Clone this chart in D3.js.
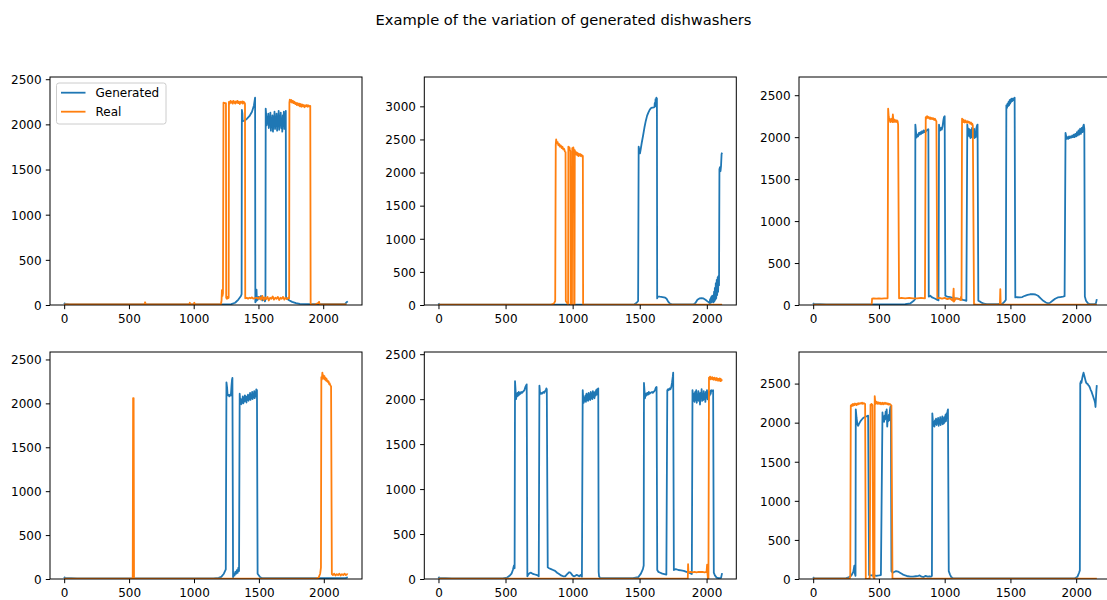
<!DOCTYPE html>
<html><head><meta charset="utf-8">
<script src="https://cdn.jsdelivr.net/npm/d3@7"></script>
<style>body{margin:0;background:#fff}svg{display:block;font-family:"DejaVu Sans",sans-serif}</style>
</head><body><svg id="chart" width="1107" height="600"></svg>
<script>
const chartTitle = "Example of the variation of generated dishwashers";
const seriesNames = ["Generated", "Real"];
const xTickValues = [0, 500, 1000, 1500, 2000];
const yTickStep = 500;

const gen1 = [[0,25],[5,12],[40,8],[600,8],[1200,8],[1290,10],[1320,25],[1345,60],[1365,100],[1370,120],[1372,2160],[1376,2120],[1378,2035],[1390,2040],[1410,2060],[1430,2090],[1450,2140],[1465,2210],[1474,2295],[1476,30],[1480,40],[1485,170],[1488,50],[1495,60],[1500,90],[1510,70],[1520,100],[1530,50],[1540,80],[1550,40],[1554,60],[1556,2175],[1560,2100],[1564,1990],[1568,2080],[1572,2010],[1576,2120],[1580,1960],[1584,2060],[1588,2000],[1592,2130],[1596,1930],[1600,2070],[1604,1990],[1608,2100],[1612,1920],[1616,2050],[1620,2010],[1624,2140],[1628,1950],[1632,2080],[1636,1980],[1640,2120],[1644,1930],[1648,2060],[1652,2000],[1656,2150],[1660,1940],[1664,2090],[1668,1990],[1672,2130],[1676,1960],[1680,2060],[1684,1920],[1688,2100],[1692,1980],[1696,2140],[1700,1950],[1704,2080],[1708,2000],[1711,2150],[1713,90],[1720,70],[1740,50],[1760,35],[1790,20],[1820,12],[1900,10],[2000,10],[2100,10],[2170,12],[2180,30],[2190,40]];
const real1 = [[0,8],[100,6],[300,6],[620,6],[625,30],[630,8],[900,6],[965,8],[970,25],[975,6],[1000,10],[1005,25],[1010,6],[1210,6],[1215,50],[1218,165],[1222,100],[1226,130],[1230,2240],[1240,2235],[1249,2235],[1251,80],[1256,70],[1260,90],[1265,75],[1270,80],[1272,2250],[1278,2230],[1284,2260],[1290,2240],[1296,2255],[1302,2230],[1308,2260],[1314,2245],[1320,2230],[1326,2255],[1332,2240],[1338,2260],[1344,2235],[1350,2250],[1356,2225],[1362,2250],[1368,2240],[1374,2255],[1380,2230],[1386,2250],[1392,2240],[1396,2230],[1398,75],[1410,80],[1420,70],[1430,80],[1440,75],[1450,85],[1460,70],[1470,75],[1480,80],[1490,80],[1500,70],[1510,90],[1520,60],[1530,100],[1540,55],[1550,85],[1560,65],[1570,90],[1580,50],[1590,80],[1600,70],[1610,95],[1620,60],[1630,80],[1640,70],[1650,90],[1660,55],[1670,80],[1680,70],[1690,90],[1700,60],[1710,80],[1720,65],[1730,80],[1737,75],[1739,2240],[1742,2275],[1748,2250],[1754,2270],[1760,2240],[1766,2260],[1772,2235],[1778,2250],[1784,2225],[1790,2240],[1796,2215],[1802,2235],[1808,2210],[1814,2230],[1820,2200],[1826,2225],[1832,2195],[1838,2220],[1844,2200],[1850,2215],[1856,2190],[1862,2210],[1868,2200],[1874,2215],[1880,2195],[1886,2210],[1892,2200],[1900,2205],[1903,10],[1910,5],[1940,8],[1960,20],[1968,35],[1972,10],[2000,6],[2100,6],[2180,6]];

const gen2 = [[0,25],[5,10],[100,6],[800,6],[1400,6],[1460,10],[1475,30],[1488,60],[1492,2390],[1498,2320],[1502,2290],[1508,2360],[1515,2450],[1525,2560],[1535,2680],[1545,2780],[1555,2860],[1565,2910],[1575,2950],[1585,2975],[1595,2980],[1605,2985],[1610,2990],[1612,3050],[1615,3000],[1618,3110],[1621,3040],[1624,3130],[1626,3080],[1628,3120],[1630,100],[1634,130],[1650,125],[1670,120],[1690,110],[1700,95],[1712,50],[1725,20],[1740,10],[1800,8],[1900,8],[1915,30],[1930,80],[1945,100],[1960,105],[1975,100],[1990,80],[2005,55],[2015,40],[2020,30],[2025,90],[2028,30],[2032,120],[2035,40],[2040,140],[2043,50],[2047,130],[2050,40],[2054,200],[2057,60],[2060,260],[2063,80],[2067,330],[2070,100],[2074,380],[2077,150],[2081,420],[2084,200],[2088,440],[2091,300],[2094,2050],[2098,2080],[2102,2020],[2106,2100],[2110,2280],[2114,2300]];
const real2 = [[0,5],[500,5],[840,5],[860,20],[870,60],[874,2420],[877,2500],[882,2440],[888,2460],[894,2410],[900,2430],[906,2390],[912,2410],[918,2370],[924,2390],[930,2350],[936,2360],[942,2320],[947,2310],[949,60],[955,40],[962,20],[966,10],[968,2390],[972,2350],[976,2380],[980,2340],[983,2320],[985,10],[990,0],[995,5],[997,2370],[1001,2310],[1005,2380],[1009,2330],[1011,0],[1014,5],[1016,2340],[1020,2290],[1024,2310],[1028,2270],[1032,2300],[1036,2260],[1040,2290],[1044,2250],[1048,2280],[1052,2260],[1056,2280],[1060,2250],[1066,2270],[1072,2240],[1076,2250],[1078,10],[1085,5],[1500,5],[2000,5],[2114,5]];

const gen3 = [[0,25],[5,12],[100,8],[600,8],[700,10],[740,20],[765,50],[775,70],[777,2150],[782,2060],[786,1995],[792,2030],[798,2010],[804,2050],[810,2030],[816,2060],[822,2040],[828,2070],[834,2050],[840,2080],[846,2060],[852,2080],[858,2070],[866,2085],[872,2090],[876,2095],[879,100],[890,110],[905,90],[920,80],[935,70],[945,60],[953,55],[957,2150],[962,2100],[966,2080],[972,2110],[978,2090],[984,2130],[990,2200],[995,2240],[1000,2250],[1005,110],[1020,100],[1040,95],[1060,85],[1080,80],[1100,75],[1120,70],[1140,60],[1155,55],[1165,50],[1172,2150],[1176,2080],[1180,2020],[1184,2100],[1188,2010],[1192,2090],[1196,1990],[1200,2080],[1204,2000],[1208,2110],[1212,1990],[1216,2080],[1220,2010],[1224,2100],[1228,1990],[1232,2060],[1236,2000],[1240,2100],[1246,2140],[1250,2150],[1256,50],[1270,40],[1285,25],[1300,15],[1320,10],[1400,10],[1440,15],[1455,40],[1465,60],[1469,2380],[1474,2350],[1478,2400],[1482,2370],[1486,2420],[1490,2380],[1494,2440],[1498,2400],[1502,2450],[1506,2420],[1510,2460],[1514,2430],[1518,2460],[1522,2440],[1526,2460],[1532,2470],[1537,90],[1550,95],[1570,90],[1590,95],[1610,110],[1630,120],[1650,128],[1670,130],[1690,125],[1710,110],[1730,80],[1750,50],[1770,30],[1785,20],[1800,25],[1820,50],[1840,75],[1860,90],[1880,95],[1900,100],[1912,105],[1919,2050],[1924,2010],[1928,1980],[1934,2000],[1940,1980],[1946,2010],[1952,1990],[1958,2010],[1964,1995],[1970,2020],[1976,2000],[1982,2030],[1988,2000],[1994,2040],[2000,2010],[2006,2060],[2012,2020],[2018,2080],[2024,2030],[2030,2100],[2036,2040],[2042,2110],[2048,2060],[2052,2120],[2058,2150],[2062,2100],[2066,100],[2075,50],[2090,20],[2102,10],[2140,10],[2150,20],[2157,70]];
const real3 = [[0,5],[200,5],[445,5],[448,75],[460,80],[480,75],[500,80],[520,75],[540,80],[557,78],[566,80],[570,2340],[574,2250],[578,2200],[582,2220],[586,2180],[590,2210],[594,2190],[598,2220],[602,2180],[606,2270],[610,2200],[614,2180],[618,2210],[622,2190],[626,2200],[630,2180],[636,2200],[642,2190],[646,2150],[653,80],[670,85],[700,80],[730,85],[760,80],[790,80],[820,85],[850,80],[856,2240],[860,2220],[866,2250],[872,2230],[878,2240],[884,2220],[890,2235],[896,2215],[902,2230],[908,2215],[914,2225],[920,2205],[926,2220],[932,2200],[937,2190],[944,80],[960,85],[980,75],[1000,85],[1020,70],[1040,80],[1055,60],[1063,50],[1068,195],[1071,40],[1085,80],[1100,75],[1110,70],[1120,60],[1125,100],[1128,60],[1132,2220],[1136,2190],[1140,2210],[1144,2180],[1148,2200],[1152,2175],[1156,2200],[1160,2180],[1164,2190],[1170,2170],[1176,2190],[1182,2175],[1188,2180],[1194,2160],[1200,2175],[1206,2150],[1210,2160],[1214,2140],[1223,10],[1240,5],[1300,5],[1420,5],[1423,190],[1426,5],[1600,5],[2000,5],[2157,5]];

const gen4 = [[0,25],[5,12],[100,8],[800,8],[1150,8],[1190,12],[1210,25],[1230,60],[1245,110],[1250,2240],[1255,2180],[1259,2090],[1265,2100],[1272,2080],[1278,2100],[1284,2090],[1289,2200],[1293,2270],[1296,2290],[1301,20],[1306,60],[1312,40],[1318,80],[1324,60],[1330,100],[1336,70],[1342,130],[1347,90],[1352,2110],[1356,2020],[1360,2050],[1364,1990],[1368,2040],[1372,2010],[1376,2080],[1380,2000],[1384,2060],[1388,2020],[1392,2090],[1396,2030],[1400,2080],[1404,2010],[1408,2070],[1412,2040],[1416,2100],[1420,2030],[1424,2080],[1428,2050],[1432,2120],[1436,2040],[1440,2090],[1444,2060],[1448,2130],[1452,2050],[1456,2100],[1460,2070],[1464,2140],[1468,2060],[1472,2110],[1476,2080],[1480,2160],[1485,2150],[1490,60],[1500,40],[1510,20],[1525,10],[1700,10],[2000,10],[2170,12],[2185,20]];
const real4 = [[0,5],[300,5],[528,5],[531,2060],[535,2060],[538,5],[800,5],[1500,5],[1940,5],[1960,15],[1972,60],[1978,130],[1981,2300],[1985,2270],[1989,2350],[1993,2290],[1997,2320],[2001,2280],[2005,2310],[2009,2270],[2013,2290],[2017,2260],[2021,2280],[2025,2250],[2029,2260],[2033,2240],[2037,2250],[2041,2220],[2045,2230],[2049,2210],[2053,2200],[2056,2195],[2062,55],[2070,45],[2080,60],[2090,40],[2100,55],[2110,45],[2120,60],[2130,40],[2140,55],[2150,45],[2160,60],[2170,45],[2180,55],[2185,50]];

const gen5 = [[0,25],[5,12],[100,8],[480,8],[510,15],[530,35],[545,60],[555,100],[563,150],[568,120],[571,2200],[575,2100],[579,2000],[583,2060],[587,2030],[591,2070],[595,2040],[599,2080],[603,2050],[607,2070],[611,2060],[617,2080],[623,2070],[629,2080],[635,2090],[641,2100],[647,2130],[653,2150],[658,2165],[663,30],[670,50],[680,65],[690,70],[700,60],[710,55],[720,50],[730,45],[740,40],[748,30],[753,2150],[757,2080],[761,2060],[765,2070],[771,2060],[777,2070],[783,2080],[789,2070],[795,2090],[801,2100],[805,2120],[808,2110],[815,130],[825,120],[840,110],[855,100],[870,90],[885,70],[900,55],[915,40],[930,30],[945,30],[960,55],[975,75],[985,70],[1000,40],[1010,30],[1020,35],[1030,45],[1040,40],[1050,30],[1060,45],[1070,25],[1076,2100],[1080,2000],[1084,1960],[1088,2020],[1092,1980],[1096,2040],[1100,1970],[1104,2060],[1108,1990],[1112,2050],[1116,1980],[1120,2070],[1124,2000],[1128,2050],[1132,1990],[1136,2080],[1140,2010],[1144,2060],[1148,2000],[1152,2090],[1156,2020],[1160,2070],[1164,2010],[1168,2080],[1172,2040],[1176,2100],[1180,2050],[1184,2110],[1188,2080],[1192,2120],[1195,80],[1198,30],[1205,12],[1300,10],[1450,10],[1490,20],[1510,60],[1525,110],[1531,150],[1533,2180],[1537,2090],[1541,2010],[1545,2060],[1551,2040],[1557,2070],[1563,2050],[1569,2080],[1575,2060],[1581,2070],[1587,2075],[1593,2080],[1599,2070],[1605,2080],[1611,2090],[1617,2110],[1622,2130],[1627,2135],[1632,100],[1640,80],[1655,70],[1670,60],[1685,55],[1700,50],[1707,2100],[1712,2110],[1718,2100],[1724,2120],[1730,2110],[1736,2130],[1742,2180],[1748,2250],[1751,2295],[1756,100],[1770,110],[1790,100],[1810,95],[1830,90],[1850,80],[1870,70],[1885,60],[1890,55],[1895,2100],[1899,2030],[1903,1980],[1907,2060],[1911,1970],[1915,2080],[1919,1990],[1923,2100],[1927,1960],[1931,2050],[1935,1990],[1939,2090],[1943,1980],[1947,2060],[1951,1940],[1955,2070],[1959,2010],[1963,2110],[1967,1980],[1971,2040],[1975,1990],[1979,2090],[1983,2000],[1987,2060],[1991,1970],[1995,2080],[1999,2020],[2003,2100],[2007,2000],[2011,2060],[2015,1990],[2019,2080],[2023,2040],[2027,2090],[2031,2060],[2035,2100],[2040,2090],[2049,2100],[2054,70],[2062,40],[2075,15],[2090,10],[2108,12],[2112,40],[2116,65]];
const real5 = [[0,5],[500,5],[1000,5],[1500,5],[1860,5],[1862,165],[1865,75],[1880,80],[1895,75],[1910,80],[1925,75],[1940,80],[1955,78],[1970,80],[1985,75],[2000,80],[2004,160],[2007,60],[2010,5],[2014,5],[2018,2240],[2022,2230],[2026,2250],[2030,2220],[2034,2240],[2038,2225],[2042,2245],[2046,2220],[2050,2235],[2054,2215],[2058,2240],[2062,2220],[2066,2230],[2070,2210],[2074,2235],[2078,2215],[2082,2230],[2086,2205],[2090,2225],[2094,2210],[2098,2230],[2102,2200],[2106,2225],[2110,2205],[2116,2220]];

const gen6 = [[0,25],[5,12],[100,8],[250,10],[270,20],[290,45],[305,90],[313,170],[318,60],[322,40],[324,2170],[330,2060],[336,1980],[342,1960],[350,1990],[360,2020],[370,2040],[380,2060],[390,2070],[400,2080],[410,2085],[418,2090],[425,50],[440,45],[460,50],[480,40],[500,45],[515,50],[527,2130],[531,2030],[535,2070],[539,2010],[543,2090],[547,2040],[551,2140],[555,2070],[559,2170],[563,1950],[567,2060],[571,2020],[575,2100],[579,2030],[583,2150],[587,2200],[591,2210],[595,100],[605,80],[615,90],[630,100],[645,95],[660,80],[680,60],[700,45],[720,35],[740,30],[760,30],[780,35],[800,40],[810,45],[825,30],[840,25],[855,40],[870,30],[885,35],[895,30],[903,40],[906,2120],[910,2030],[914,1960],[918,2010],[922,1950],[926,2030],[930,1980],[934,2050],[938,1970],[942,2040],[946,1990],[950,2060],[954,1960],[958,2020],[962,1990],[966,2070],[970,1970],[974,2040],[978,2000],[982,2080],[986,1980],[990,2050],[994,1990],[998,2070],[1002,2010],[1006,2100],[1010,2020],[1014,2120],[1018,2060],[1022,2150],[1025,2170],[1031,100],[1040,60],[1050,25],[1063,10],[1200,8],[1600,8],[1900,8],[1990,10],[2010,30],[2022,80],[2028,110],[2031,2500],[2036,2530],[2040,2510],[2045,2560],[2050,2600],[2056,2640],[2062,2600],[2068,2560],[2074,2520],[2080,2500],[2086,2500],[2092,2480],[2098,2470],[2104,2450],[2110,2420],[2116,2400],[2122,2370],[2128,2340],[2134,2310],[2140,2280],[2144,2250],[2147,2200],[2150,2300],[2154,2420],[2157,2480]];
const real6 = [[0,5],[200,5],[276,5],[282,30],[286,2220],[290,2210],[294,2230],[298,2215],[302,2240],[306,2220],[310,2235],[314,2225],[318,2245],[322,2230],[326,2240],[330,2225],[336,2245],[342,2235],[348,2250],[354,2240],[360,2250],[366,2245],[372,2255],[378,2240],[384,2250],[390,2245],[395,2240],[400,5],[410,0],[420,5],[430,5],[436,2230],[440,2220],[444,2240],[448,2230],[451,2225],[456,30],[462,10],[466,5],[468,2340],[472,2260],[476,2240],[480,2270],[484,2250],[488,2260],[492,2240],[496,2260],[500,2245],[504,2255],[508,2240],[512,2255],[516,2235],[520,2250],[524,2240],[528,2255],[532,2235],[536,2250],[540,2240],[546,2255],[552,2240],[558,2250],[564,2235],[570,2245],[576,2230],[582,2240],[588,2230],[595,2220],[603,5],[700,5],[1000,5],[1500,5],[2000,5],[2157,5]];

const panelData = [[gen1, real1], [gen2, real2], [gen3, real3], [gen4, real4], [gen5, real5], [gen6, real6]];
const colors = ["#1f77b4", "#ff7f0e"];

const svg = d3.select("#chart");
svg.append("rect").attr("width", 1107).attr("height", 600).attr("fill", "#fff");

svg.append("text").attr("x", 563.5).attr("y", 24.5).attr("text-anchor", "middle")
  .attr("font-size", "14.7px").attr("fill", "#000").text(chartTitle);

const colLeft = [50, 424.3, 799];
const panelW = 312;
const rowTop = [77, 352];
const rowBottom = [305, 579];

panelData.forEach((series, i) => {
  const col = i % 3, row = Math.floor(i / 3);
  const left = colLeft[col], right = left + panelW;
  const top = rowTop[row], bottom = rowBottom[row];
  const L = d3.max(series, s => d3.max(s, d => d[0]));
  const ymaxData = d3.max(series, s => d3.max(s, d => d[1]));
  const x = d3.scaleLinear().domain([-0.05 * L, 1.05 * L]).range([left, right]);
  const y = d3.scaleLinear().domain([0, 1.1 * ymaxData]).range([bottom, top]);
  const g = svg.append("g");

  const clipId = "clip" + i;
  g.append("clipPath").attr("id", clipId).append("rect")
    .attr("x", left).attr("y", top).attr("width", panelW).attr("height", bottom - top);

  const line = d3.line().x(d => x(d[0])).y(d => y(d[1]));
  const plot = g.append("g").attr("clip-path", `url(#${clipId})`);
  series.forEach((s, k) => {
    plot.append("path").datum(s).attr("d", line).attr("fill", "none")
      .attr("stroke", colors[k]).attr("stroke-width", 1.8)
      .attr("stroke-linejoin", "round").attr("stroke-linecap", "butt");
  });

  const yTicks = d3.range(0, y.domain()[1] + 1e-9, yTickStep);
  const xAxis = g.append("g").attr("transform", `translate(0,${bottom})`)
    .call(d3.axisBottom(x).tickValues(xTickValues).tickSize(4.2).tickSizeOuter(0).tickPadding(4.8).tickFormat(d3.format("d")));
  const yAxis = g.append("g").attr("transform", `translate(${left},0)`)
    .call(d3.axisLeft(y).tickValues(yTicks).tickSize(4.2).tickSizeOuter(0).tickPadding(4.2).tickFormat(d3.format("d")));
  [xAxis, yAxis].forEach(a => {
    a.select(".domain").remove();
    a.selectAll("line").attr("stroke", "#000").attr("stroke-width", 1);
    a.selectAll("text").attr("font-size", "12px").attr("fill", "#000").attr("font-family", "DejaVu Sans, sans-serif");
  });
  yAxis.selectAll("text").attr("dy", "0.36em");

  g.append("rect").attr("x", left).attr("y", top).attr("width", panelW).attr("height", bottom - top)
    .attr("fill", "none").attr("stroke", "#000").attr("stroke-width", 1);

  if (i === 0) {
    const lg = g.append("g");
    lg.append("rect").attr("x", 56.5).attr("y", 83).attr("width", 109.5).attr("height", 41)
      .attr("rx", 2.5).attr("fill", "#fff").attr("fill-opacity", 0.8).attr("stroke", "#cccccc").attr("stroke-width", 1);
    seriesNames.forEach((name, k) => {
      const cy = 92.7 + k * 19;
      lg.append("line").attr("x1", 61).attr("x2", 85.5).attr("y1", cy).attr("y2", cy)
        .attr("stroke", colors[k]).attr("stroke-width", 1.8);
      lg.append("text").attr("x", 95.5).attr("y", cy).attr("dy", "0.36em")
        .attr("font-size", "12px").attr("fill", "#000").text(name);
    });
  }
});
</script></body></html>
